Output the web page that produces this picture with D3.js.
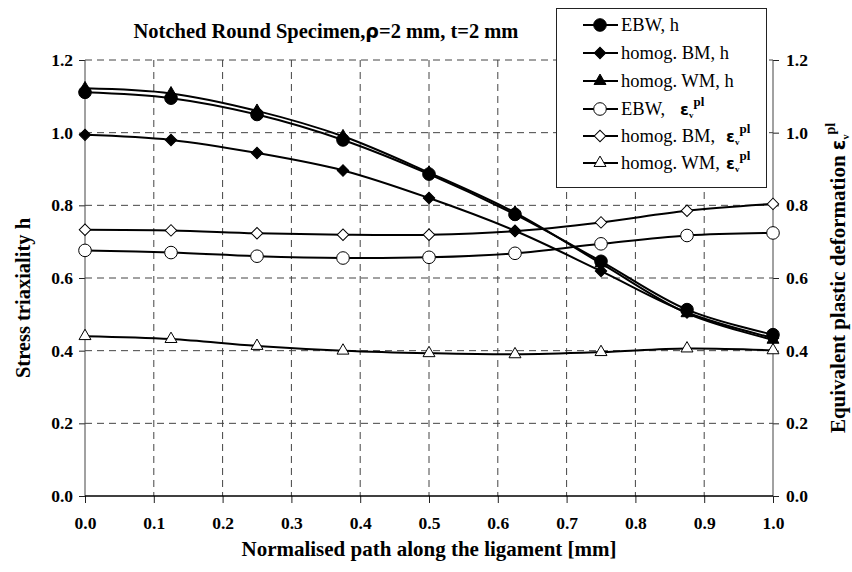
<html>

<head>
  <title>Notched round specimen</title>
  <script type="text/javascript" src="https://cdn.jsdelivr.net/npm/d3@7"></script>
  <style>
    body { margin: 0; background: #fff; }
    text { font-family: "Liberation Serif", "Times New Roman", serif; fill: #000; }
  </style>
</head>

<body>
  <script type="text/javascript">
    // Størrelse
    const w = 852;
    const h = 572;

    // data
    const pathPos = [0, 0.125, 0.25, 0.375, 0.5, 0.625, 0.75, 0.875, 1.0];
    const ebwH = [1.111, 1.095, 1.05, 0.98, 0.886, 0.775, 0.646, 0.513, 0.444];
    const bmH = [0.994, 0.98, 0.944, 0.896, 0.82, 0.73, 0.619, 0.505, 0.435];
    const wmH = [1.122, 1.108, 1.06, 0.99, 0.89, 0.78, 0.64, 0.503, 0.43];
    const ebwEps = [0.676, 0.670, 0.66, 0.655, 0.657, 0.668, 0.694, 0.717, 0.724];
    const bmEps = [0.733, 0.731, 0.723, 0.719, 0.719, 0.729, 0.753, 0.785, 0.804];
    const wmEps = [0.44, 0.432, 0.413, 0.40, 0.393, 0.39, 0.396, 0.406, 0.401];

    const xTicks = [0, 0.1, 0.2, 0.3, 0.4, 0.5, 0.6, 0.7, 0.8, 0.9, 1.0];
    const yTicks = [0, 0.2, 0.4, 0.6, 0.8, 1.0, 1.2];

    const seriesNames = ["EBW, h", "homog. BM, h", "homog. WM, h", "EBW,", "homog. BM,", "homog. WM,"];
    const seriesValues = [ebwH, bmH, wmH, ebwEps, bmEps, wmEps];
    const seriesMarker = ["circle", "diamond", "triangle", "circle", "diamond", "triangle"];
    const seriesFilled = [true, true, true, false, false, false];

    // plot område
    const pLeft = 85, pRight = 773, pTop = 60, pBottom = 496;

    const xScale = d3.scaleLinear().domain([0, 1]).range([pLeft, pRight]);
    const yScale = d3.scaleLinear().domain([0, 1.2]).range([pBottom, pTop]);
    const yScale2 = d3.scaleLinear().domain([0, 1.2]).range([pBottom, pTop]);

    const svg = d3.select("body")
      .append("svg")
      .attr("width", w)
      .attr("height", h);

    // gitterlinjer
    svg.append("g").selectAll("line")
      .data(yTicks.filter(d => d > 0))
      .enter()
      .append("line")
      .attr("x1", pLeft).attr("x2", pRight)
      .attr("y1", d => yScale(d)).attr("y2", d => yScale(d))
      .attr("stroke", "#444")
      .attr("stroke-dasharray", "7,5");

    svg.append("g").selectAll("line")
      .data(xTicks.filter(d => d > 0 && d < 1))
      .enter()
      .append("line")
      .attr("x1", d => xScale(d)).attr("x2", d => xScale(d))
      .attr("y1", pTop).attr("y2", pBottom)
      .attr("stroke", "#444")
      .attr("stroke-dasharray", "7,5");

    // akser
    const fmt = d3.format(".1f");
    const styleAxis = function (g) {
      g.select(".domain").remove();
      g.selectAll(".tick line").attr("stroke", "#222");
      g.selectAll(".tick text")
        .attr("font-size", "17.5px")
        .attr("font-weight", "bold")
        .attr("font-family", "Liberation Serif, serif");
    };

    svg.append("g")
      .attr("transform", "translate(" + pLeft + ",0)")
      .call(d3.axisLeft(yScale).tickValues(yTicks).tickFormat(fmt).tickSize(6).tickPadding(6))
      .call(styleAxis);

    svg.append("g")
      .attr("transform", "translate(" + pRight + ",0)")
      .call(d3.axisRight(yScale2).tickValues(yTicks).tickFormat(fmt).tickSize(6).tickPadding(7))
      .call(styleAxis);

    svg.append("g")
      .attr("transform", "translate(0," + pBottom + ")")
      .call(d3.axisBottom(xScale).tickValues(xTicks).tickFormat(fmt).tickSize(7).tickPadding(14))
      .call(styleAxis);

    // aksestreger
    svg.append("line").attr("x1", pLeft).attr("x2", pLeft).attr("y1", pTop).attr("y2", pBottom)
      .attr("stroke", "#444");
    svg.append("line").attr("x1", pRight).attr("x2", pRight).attr("y1", pTop).attr("y2", pBottom)
      .attr("stroke", "#444");
    svg.append("line").attr("x1", pLeft).attr("x2", pRight).attr("y1", pBottom).attr("y2", pBottom)
      .attr("stroke", "#000").attr("stroke-width", 1.3);

    // linjer
    const line = d3.line()
      .x((d, i) => xScale(pathPos[i]))
      .y(d => yScale(d))
      .curve(d3.curveCatmullRom.alpha(0.5));

    const symbolType = {
      circle: d3.symbolCircle,
      diamond: d3.symbolSquare,
      triangle: d3.symbolTriangle
    };
    const symbolSize = { circle: 125, diamond: 66, triangle: 62 };
    const symbolRot = { circle: 0, diamond: 45, triangle: 0 };

    const marker = function (s, x, y) {
      return "translate(" + x + "," + y + ") rotate(" + symbolRot[seriesMarker[s]] + ")";
    };

    // tegn open serier først så de fyldte ligger ovenpå
    const order = [5, 4, 3, 1, 0, 2];
    order.forEach(function (s) {
      svg.append("path")
        .attr("d", line(seriesValues[s]))
        .attr("fill", "none")
        .attr("stroke", "#000")
        .attr("stroke-width", 2);
    });
    order.forEach(function (s) {
      svg.append("g").selectAll("path")
        .data(seriesValues[s])
        .enter()
        .append("path")
        .attr("transform", (d, i) => marker(s, xScale(pathPos[i]), yScale(d)))
        .attr("d", d3.symbol().type(symbolType[seriesMarker[s]]).size(symbolSize[seriesMarker[s]]))
        .attr("fill", seriesFilled[s] ? "#000" : "#fff")
        .attr("stroke", "#000")
        .attr("stroke-width", 1);
    });

    // titel
    const title = svg.append("text")
      .attr("x", 326).attr("y", 38)
      .attr("text-anchor", "middle")
      .attr("font-size", "20.5px")
      .attr("font-weight", "bold");
    title.append("tspan").text("Notched Round Specimen,");
    title.append("tspan").attr("font-family", "DejaVu Sans, sans-serif").attr("font-size", "19px").text("ρ");
    title.append("tspan").text("=2 mm, t=2 mm");

    // aksetitler
    svg.append("text")
      .attr("transform", "translate(30,298) rotate(-90)")
      .attr("text-anchor", "middle")
      .attr("font-size", "20.5px")
      .attr("font-weight", "bold")
      .text("Stress triaxiality h");

    const rt = svg.append("text")
      .attr("transform", "translate(845,278) rotate(-90)")
      .attr("text-anchor", "middle")
      .attr("font-size", "21px")
      .attr("font-weight", "bold");
    rt.append("tspan").text("Equivalent plastic deformation ");
    rt.append("tspan").attr("font-family", "DejaVu Sans, sans-serif").attr("font-size", "19px").text("ε");
    rt.append("tspan").attr("font-size", "10px").attr("dy", 4).text("v");
    rt.append("tspan").attr("font-size", "14px").attr("dy", -14).text("pl");

    svg.append("text")
      .attr("x", 429).attr("y", 556)
      .attr("text-anchor", "middle")
      .attr("font-size", "21px")
      .attr("font-weight", "bold")
      .text("Normalised path along the ligament [mm]");

    // legende
    const legend = svg.append("g");
    legend.append("rect")
      .attr("x", 556.5).attr("y", 8.5)
      .attr("width", 210).attr("height", 179)
      .attr("fill", "#fff")
      .attr("stroke", "#222");

    const rowY = [25, 53, 81, 109, 136, 163];
    const epsX = [0, 0, 0, 680, 726, 726];
    seriesNames.forEach(function (name, s) {
      const y = rowY[s];
      legend.append("line")
        .attr("x1", 583).attr("x2", 618)
        .attr("y1", y).attr("y2", y)
        .attr("stroke", "#000").attr("stroke-width", 2);
      legend.append("path")
        .attr("transform", marker(s, 600, y))
        .attr("d", d3.symbol().type(symbolType[seriesMarker[s]]).size(symbolSize[seriesMarker[s]]))
        .attr("fill", seriesFilled[s] ? "#000" : "#fff")
        .attr("stroke", "#000");
      legend.append("text")
        .attr("x", 621).attr("y", y + 6)
        .attr("font-size", "18.5px")
        .text(name);
      if (epsX[s] > 0) {
        const e = legend.append("text")
          .attr("x", epsX[s]).attr("y", y + 6)
          .attr("font-weight", "bold");
        e.append("tspan").attr("font-family", "DejaVu Sans, sans-serif").attr("font-size", "16px").text("ε");
        e.append("tspan").attr("font-size", "9px").attr("dy", 3).text("v");
        e.append("tspan").attr("font-size", "13px").attr("dy", -12).text("pl");
      }
    });
  </script>
</body>

</html>
